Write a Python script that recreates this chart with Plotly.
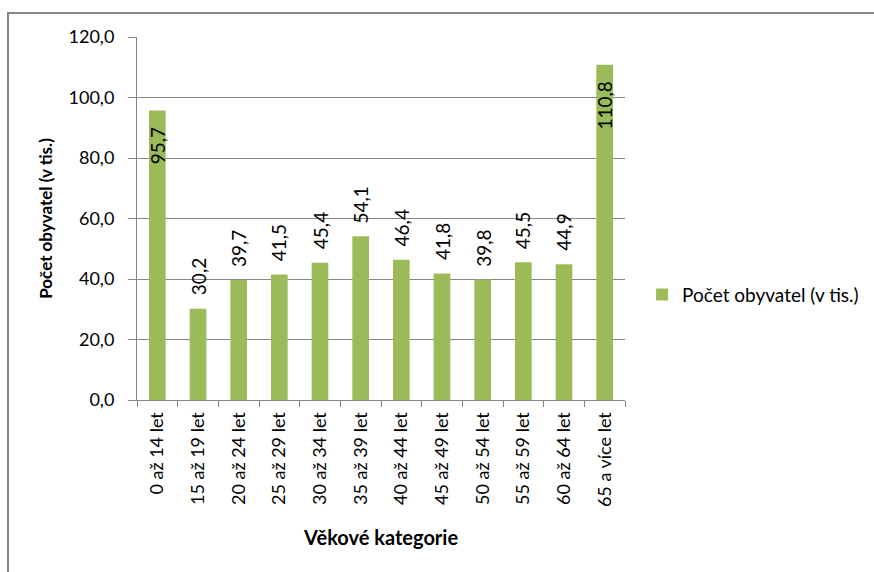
import plotly.graph_objects as go

# Age categories and population counts (thousands)
categories = [
    "0 až 14 let", "15 až 19 let", "20 až 24 let", "25 až 29 let",
    "30 až 34 let", "35 až 39 let", "40 až 44 let", "45 až 49 let",
    "50 až 54 let", "55 až 59 let", "60 až 64 let", "65 a více let",
]
values = [95.7, 30.2, 39.7, 41.5, 45.4, 54.1, 46.4, 41.8, 39.8, 45.5, 44.9, 110.8]
# labels that sit inside the bar top instead of above it
inside_labels = [True, False, False, False, False, False, False, False, False, False, False, True]

series_name = "Počet obyvatel (v tis.)"
x_title = "Věkové kategorie"
y_title = "Počet obyvatel (v tis.)"
y_ticks = [0, 20, 40, 60, 80, 100, 120]

BAR = "#9BBB59"
GRID = "#868686"
FONT = "Lato"
W, H = 874, 572
L, R, T, B = 137, 249, 37, 172

fig = go.Figure()
fig.add_trace(go.Bar(
    x=categories, y=values, name=series_name,
    marker=dict(color=BAR, line=dict(width=0)),
    showlegend=True,
))

def fmt(v):
    return f"{v:.1f}".replace(".", ",")

for cat, v, inside in zip(categories, values, inside_labels):
    fig.add_annotation(
        x=cat, y=v, xref="x", yref="y",
        text=fmt(v), textangle=-90, showarrow=False,
        font=dict(family=FONT, size=19, color="#000000"),
        xanchor="center",
        yanchor="top" if inside else "bottom",
        yshift=-15 if inside else 11,
    )

# chart frame (left and top edges visible)
plot_w = W - L - R
plot_h = H - T - B
fig.add_shape(
    type="rect", xref="paper", yref="paper",
    x0=(8 - L) / plot_w, x1=(W + 20 - L) / plot_w,
    y0=-(H + 20 - (H - B)) / plot_h, y1=((H - B) - 13) / plot_h,
    line=dict(color=GRID, width=2), fillcolor="rgba(0,0,0,0)",
)

fig.update_layout(
    width=W, height=H,
    margin=dict(l=L, r=R, t=T, b=B, autoexpand=False),
    paper_bgcolor="white", plot_bgcolor="white",
    separators=", ",
    font=dict(family=FONT, size=18, color="#000000"),
    bargap=0.59,
    legend=dict(
        x=1.035, y=0.29, xanchor="left", yanchor="middle",
        font=dict(family=FONT, size=19, color="#000000"),
        itemwidth=30, bgcolor="rgba(0,0,0,0)",
    ),
    xaxis=dict(
        type="category",
        showline=True, linecolor=GRID, linewidth=1,
        ticks="outside", tickson="boundaries", ticklen=6, tickcolor=GRID,
        tickangle=-90, ticklabelstandoff=4,
        showgrid=False,
        title=dict(text=f"<b>{x_title}</b>", standoff=24,
                   font=dict(family=FONT, size=20, color="#000000")),
    ),
    yaxis=dict(
        range=[0, 120], tickvals=y_ticks, tickformat=".1f",
        showline=True, linecolor=GRID, linewidth=1,
        ticks="outside", ticklen=8, tickcolor=GRID, ticklabelstandoff=10,
        showgrid=True, gridcolor=GRID, gridwidth=1,
        zeroline=False,
        title=dict(text=f"<b>{y_title}</b>", standoff=11,
                   font=dict(family=FONT, size=17, color="#000000")),
    ),
)

fig.write_html("out.html")
